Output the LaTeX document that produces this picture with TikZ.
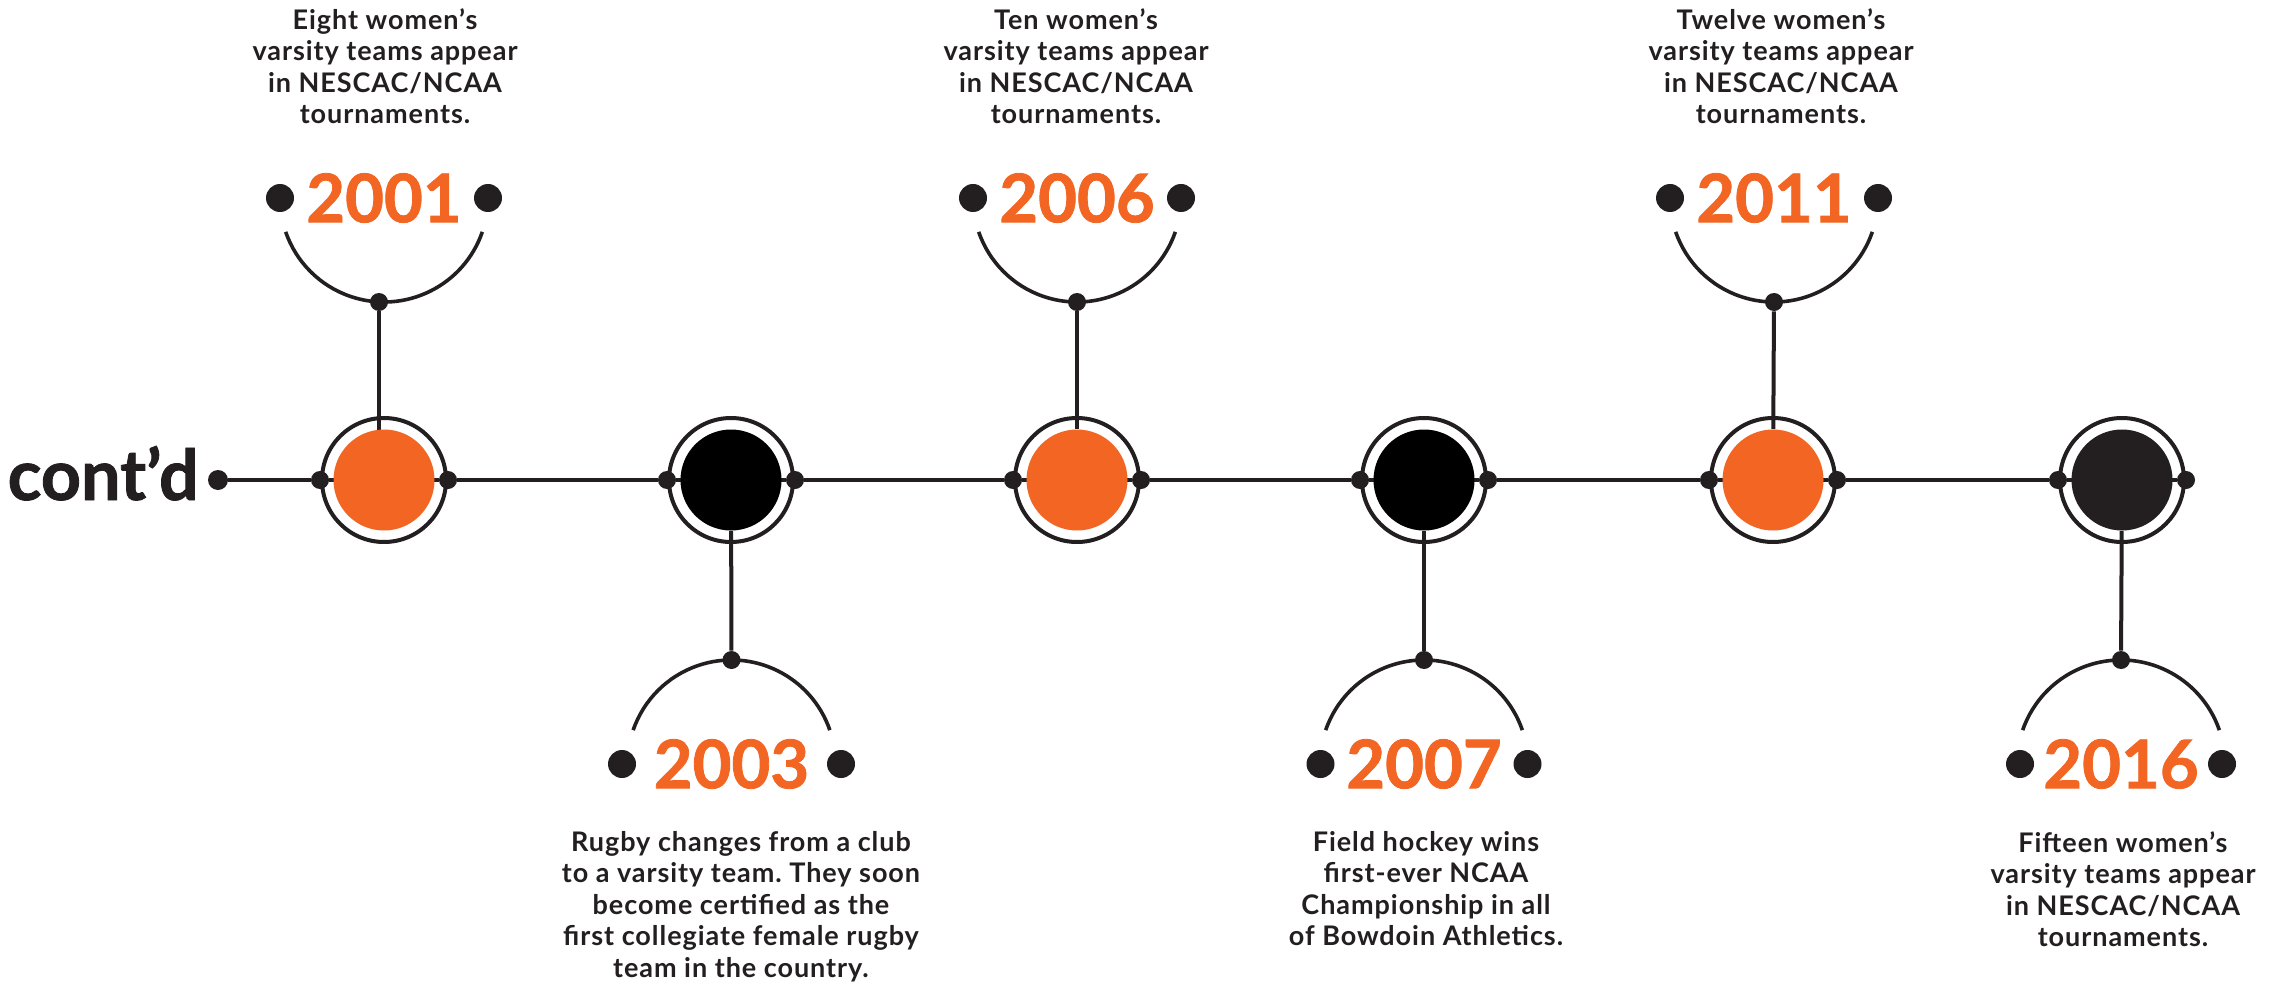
\documentclass[tikz,border=0pt]{standalone}
\usepackage{fontspec}
\setmainfont{Lato}
\newfontfamily\descfont{Lato}[LetterSpace=3.5]
\newfontfamily\heavyfont{Lato}[BoldFeatures={FakeBold=1.2}]
\usetikzlibrary{calc}
\definecolor{orng}{HTML}{F26522}
\definecolor{ink}{HTML}{231F20}
\pgfdeclarelayer{bg}
\pgfsetlayers{bg,main}
\frenchspacing
\tikzset{
  ring/.style={circle, draw=ink, line width=2pt, minimum size=62pt, inner sep=0pt},
  disk/.style={circle, minimum size=50.5pt, inner sep=0pt},
  jdot/.style={circle, fill=ink, minimum size=9pt, inner sep=0pt},
  ydot/.style={circle, fill=ink, minimum size=14pt, inner sep=0pt},
  year/.style={text=orng, font=\heavyfont\bfseries\fontsize{33.5}{33.5}\selectfont, inner sep=0pt},
  desc/.style={text=ink, align=center, inner sep=0pt, anchor=north, font=\descfont\bfseries\fontsize{13.5}{15.75}\selectfont},
  conn/.style={draw=ink, line width=1.8pt},
}
\begin{document}
\begin{tikzpicture}[x=0.5pt,y=-0.5pt]
\begin{pgfonlayer}{bg}
\path[fill=white] (0,0) rectangle (2285,984);
\end{pgfonlayer}
\useasboundingbox (0,0) rectangle (2285,984);

% cont'd
\node[anchor=base east, inner sep=0pt, text=ink, font=\heavyfont\bfseries\fontsize{35}{35}\selectfont] (contd) at (199,500) {cont’d};
\node[jdot, minimum size=10pt] (cdot) at (218,480) {};

% rings
\foreach \i/\x in {1/384,2/731,3/1077,4/1424,5/1773,6/2122}{
  \node[ring] (r\i) at (\x,480) {};
  \node[jdot] (jw\i) at (r\i.west) {};
  \node[jdot] (je\i) at (r\i.east) {};
}

% years
\node[year] (y1) at (384,198) {2001};
\node[year] (y2) at (731.5,764) {2003};
\node[year] (y3) at (1077,198) {2006};
\node[year] (y4) at (1424,764) {2007};
\node[year] (y5) at (1774,198) {2011};
\node[year] (y6) at (2121,764) {2016};
\foreach \i/\o in {1/104,2/109.5,3/104,4/103.5,5/104,6/101}{
  \node[ydot] (yl\i) at ($(y\i.center)+(-\o,0)$) {};
  \node[ydot] (yr\i) at ($(y\i.center)+(\o,0)$) {};
}

% arcs and their junction dots
\foreach \i in {1,3,5}{
  \draw[conn] ($(y\i.center)+(19:104)$) arc (19:161:104);
}
\foreach \i in {2,4,6}{
  \draw[conn] ($(y\i.center)+(-19:104)$) arc (-19:-161:104);
}
\node[jdot] (a1) at (379,302) {};
\node[jdot] (a3) at ($(y3.center)+(0,104)$) {};
\node[jdot] (a5) at ($(y5.center)+(0,104)$) {};
\node[jdot] (a2) at ($(y2.center)+(0,-104)$) {};
\node[jdot] (a4) at ($(y4.center)+(0,-104)$) {};
\node[jdot] (a6) at ($(y6.center)+(0,-104)$) {};

% disks
\node[disk, fill=orng] (d1) at (r1) {};
\node[disk, fill=black] (d2) at (r2) {};
\node[disk, fill=orng] (d3) at (r3) {};
\node[disk, fill=black] (d4) at (r4) {};
\node[disk, fill=orng] (d5) at (r5) {};
\node[disk, fill=ink] (d6) at (r6) {};

% connectors (behind)
\begin{pgfonlayer}{bg}
  \draw[conn] (cdot) -- (jw1);
  \draw[conn] (jw1) -- (je1) -- (jw2) -- (je2) -- (jw3) -- (je3) -- (jw4) -- (je4) -- (jw5) -- (je5) -- (jw6) -- (je6);
  \draw[conn, line width=2pt] (a1) -- (a1 |- d1.center);
  \draw[conn, line width=2pt] (a3) -- (d3);
  \draw[conn, line width=2pt] (a5) -- (d5);
  \draw[conn, line width=2pt] (a2) -- (d2);
  \draw[conn, line width=2pt] (a4) -- (d4);
  \draw[conn, line width=2pt] (a6) -- (d6);
\end{pgfonlayer}

% descriptions
\node[desc] (t1) at (385,8) {Eight women’s\\varsity teams appear\\in NESCAC/NCAA\\tournaments.};
\node[desc] (t3) at (1076,8) {Ten women’s\\varsity teams appear\\in NESCAC/NCAA\\tournaments.};
\node[desc] (t5) at (1781,8) {Twelve women’s\\varsity teams appear\\in NESCAC/NCAA\\tournaments.};
\node[desc] (t2) at (741,831) {Rugby changes from a club\\to a varsity team. They soon\\become certified as the\\first collegiate female rugby\\team in the country.};
\node[desc] (t4) at (1426,831) {Field hockey wins\\first-ever NCAA\\Championship in all\\of Bowdoin Athletics.};
\node[desc] (t6) at (2123,831) {Fifteen women’s\\varsity teams appear\\in NESCAC/NCAA\\tournaments.};
\end{tikzpicture}
\end{document}
